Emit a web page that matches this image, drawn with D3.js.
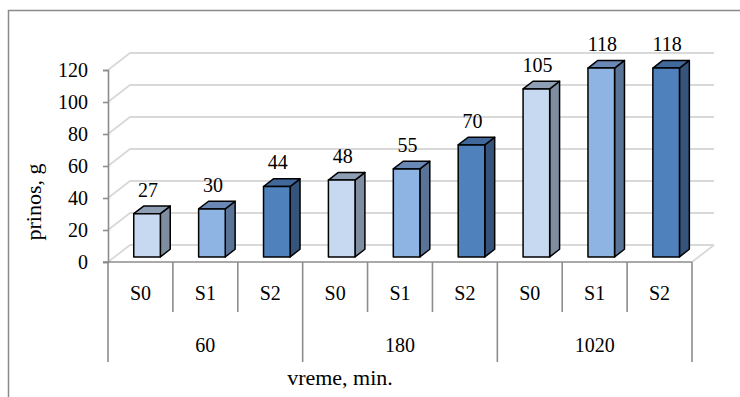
<!DOCTYPE html>
<html>
<head>
<meta charset="utf-8">
<script src="https://cdn.jsdelivr.net/npm/d3@7"></script>
<style>
  html, body { margin: 0; padding: 0; background: #fff; }
  svg { display: block; }
  svg text { font-family: 'Liberation Serif', 'Times New Roman', 'DejaVu Serif', serif !important; fill: #000; }
</style>
</head>
<body>
<svg id="chart" width="740" height="397"></svg>
<script>
// Yield (g) per treatment at each sampling time
const times = ["60", "180", "1020"];
const treatments = ["S0", "S1", "S2"];
const yieldS0 = [27, 48, 105];
const yieldS1 = [30, 55, 118];
const yieldS2 = [44, 70, 118];
const yTicks = [0, 20, 40, 60, 80, 100, 120];
const yTitle = "prinos, g";
const xTitle = "vreme, min.";

const seriesValues = [yieldS0, yieldS1, yieldS2];
const rows = [];
times.forEach((t, ti) => {
  treatments.forEach((s, si) => {
    rows.push({ key: t + "|" + s, time: t, treat: s, si, value: seriesValues[si][ti] });
  });
});

// face colours per treatment: front, side, top
const faceColors = {
  S0: { front: "#C6D9F1", side: "#7F8DA1", top: "#8E9EB5" },
  S1: { front: "#8EB4E3", side: "#5A7497", top: "#6988B6" },
  S2: { front: "#4F81BD", side: "#35537B", top: "#41689A" }
};

const serif = "'Liberation Serif', 'Times New Roman', 'DejaVu Serif', serif";
const svg = d3.select("#chart").attr("font-family", serif);

// plot geometry with an oblique depth axis
const left = 108, right = 692, floorY = 262, topY = 70;
const DX = 22, DY = -17;           // full depth offset of back wall
const z0 = 0.3, z1 = 0.75;         // bar depth span

const x = d3.scaleBand().domain(rows.map(d => d.key)).range([left, right]).padding(0);
const xGroup = d3.scaleBand().domain(times).range([left, right]).padding(0);
const y = d3.scaleLinear().domain([0, 120]).range([floorY, topY]);

// chart frame
svg.append("rect")
  .attr("x", 8.5).attr("y", 10.5)
  .attr("width", 760).attr("height", 420)
  .attr("fill", "none").attr("stroke", "#8a8a8a").attr("stroke-width", 1.5);

const gridColor = "#D9D9D9", axisColor = "#8C8C8C";

// back wall gridlines with their side-wall diagonals
const grid = svg.append("g");
yTicks.forEach(v => {
  const yy = y(v);
  grid.append("path")
    .attr("d", `M${left},${yy} L${left + DX},${yy + DY} L${right + DX},${yy + DY}`)
    .attr("fill", "none").attr("stroke", gridColor).attr("stroke-width", 1.8);
});
// floor right edge
grid.append("line")
  .attr("x1", right).attr("y1", floorY).attr("x2", right + DX).attr("y2", floorY + DY)
  .attr("stroke", gridColor).attr("stroke-width", 1.8);

// value axis
const yAxis = d3.axisLeft(y).tickValues(yTicks).tickSize(5).tickPadding(15).tickFormat(d3.format("d"));
const ya = svg.append("g").attr("transform", `translate(${left},0)`).call(yAxis);
ya.attr("font-family", serif).attr("font-size", 20);
ya.select(".domain").attr("stroke", axisColor).attr("stroke-width", 1.6);
ya.selectAll(".tick line").attr("stroke", axisColor).attr("stroke-width", 1.6);
ya.selectAll(".tick text").attr("fill", "#000");

// category axis: baseline, inner dividers, group dividers
const cat = svg.append("g");
cat.append("line")
  .attr("x1", left - 5).attr("x2", right).attr("y1", floorY).attr("y2", floorY)
  .attr("stroke", axisColor).attr("stroke-width", 1.6);
rows.forEach((d, i) => {
  if (i === 0) return;
  const xx = x(d.key);
  const isGroupEdge = d.si === 0;
  cat.append("line")
    .attr("x1", xx).attr("x2", xx)
    .attr("y1", floorY).attr("y2", isGroupEdge ? 362 : 312)
    .attr("stroke", axisColor).attr("stroke-width", 1.6);
});
[left, right].forEach(xx => {
  cat.append("line")
    .attr("x1", xx).attr("x2", xx).attr("y1", floorY).attr("y2", 362)
    .attr("stroke", axisColor).attr("stroke-width", 1.6);
});
cat.selectAll("text.treat").data(rows).join("text")
  .attr("class", "treat")
  .attr("x", d => x(d.key) + x.bandwidth() / 2)
  .attr("y", 299.5)
  .attr("text-anchor", "middle")
  .attr("font-size", 20)
  .text(d => d.treat);
cat.selectAll("text.time").data(times).join("text")
  .attr("class", "time")
  .attr("x", d => xGroup(d) + xGroup.bandwidth() / 2)
  .attr("y", 351.5)
  .attr("text-anchor", "middle")
  .attr("font-size", 20)
  .text(d => d);

// bars as oblique prisms
const barW = x.bandwidth() * 0.41;
const bars = svg.append("g");
rows.forEach(d => {
  const xl = x(d.key) + (x.bandwidth() - barW) / 2;
  const xr = xl + barW;
  const yt = y(d.value), yb = y(0);
  const fx = z0 * DX, fy = z0 * DY, bx = z1 * DX, by = z1 * DY;
  const c = faceColors[d.treat];
  const face = (pts, fill) => {
    bars.append("path")
      .attr("d", "M" + pts.map(q => q.join(",")).join("L") + "Z")
      .attr("fill", fill)
      .attr("stroke", "#000").attr("stroke-width", 1.5).attr("stroke-linejoin", "round");
  };
  // side
  face([[xr + fx, yt + fy], [xr + bx, yt + by], [xr + bx, yb + by], [xr + fx, yb + fy]], c.side);
  // top
  face([[xl + fx, yt + fy], [xl + bx, yt + by], [xr + bx, yt + by], [xr + fx, yt + fy]], c.top);
  // front
  face([[xl + fx, yt + fy], [xr + fx, yt + fy], [xr + fx, yb + fy], [xl + fx, yb + fy]], c.front);

  bars.append("text")
    .attr("x", (xl + xr) / 2 + fx + 1)
    .attr("y", yt + by - 9.5)
    .attr("text-anchor", "middle")
    .attr("font-size", 20)
    .text(d.value);
});

// axis titles
svg.append("text")
  .attr("transform", `translate(41,202) rotate(-90)`)
  .attr("text-anchor", "middle")
  .attr("font-size", 22)
  .text(yTitle);
svg.append("text")
  .attr("x", 340).attr("y", 385)
  .attr("text-anchor", "middle")
  .attr("font-size", 22)
  .text(xTitle);
</script>
</body>
</html>
